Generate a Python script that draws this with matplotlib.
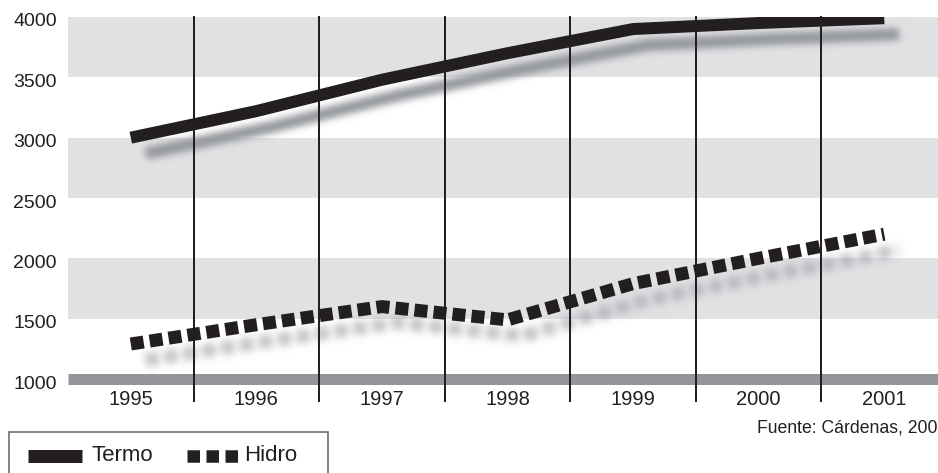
import matplotlib
matplotlib.use("Agg")
import matplotlib.pyplot as plt
import matplotlib.transforms as mtransforms
from matplotlib.lines import Line2D
from matplotlib.patches import Rectangle
import numpy as np

years = ["1995", "1996", "1997", "1998", "1999", "2000", "2001"]
termo = [3000, 3220, 3480, 3700, 3900, 3950, 3990]
hidro = [1290, 1450, 1600, 1490, 1790, 2000, 2200]
y_ticks = [1000, 1500, 2000, 2500, 3000, 3500, 4000]
band_ranges = [(1500, 2000), (2500, 3000), (3500, 4000)]
source_text = "Fuente: Cárdenas, 200"

INK = "#231f20"
BAND = "#e0e1e3"
BASE = "#939598"

plt.rcParams["font.family"] = ["Liberation Sans", "DejaVu Sans"]

W, H = 938, 473
PT = 0.72  # points per pixel at 100 dpi


def blurred_shadow(sigma, rgb, alpha=1.0):
    # agg filter: gaussian blur of the artist's alpha, recoloured grey
    r = int(3 * sigma)
    k = np.exp(-0.5 * (np.arange(-r, r + 1) / sigma) ** 2)
    k /= k.sum()

    def f(im, dpi):
        a = np.pad(im[:, :, 3], r)
        a = np.apply_along_axis(lambda v: np.convolve(v, k, mode="same"), 0, a)
        a = np.apply_along_axis(lambda v: np.convolve(v, k, mode="same"), 1, a)
        out = np.zeros(a.shape + (4,))
        out[..., :3] = rgb
        out[..., 3] = np.clip(a * alpha, 0, 1)
        return out, -r, -r
    return f


fig = plt.figure(figsize=(W / 100, H / 100), dpi=100)
ax = fig.add_axes([68 / W, (H - 379) / H, (947 - 68) / W, (379 - 17) / H])

x = np.arange(len(years))
ax.set_xlim(-0.5, len(years) - 0.5)
ax.set_ylim(y_ticks[0], y_ticks[-1])

for lo, hi in band_ranges:
    ax.axhspan(lo, hi, color=BAND, lw=0, zorder=0)
ax.axhline(y_ticks[0], color=BASE, lw=11 * PT, solid_capstyle="butt",
           clip_on=False, zorder=1.5)

# soft drop shadows under both series
shift = ax.transData + mtransforms.ScaledTranslation(15 / 100, -16 / 100, fig.dpi_scale_trans)
sh1, = ax.plot(x, termo, color="k", lw=12 * PT, solid_capstyle="butt",
               transform=shift, zorder=1)
sh1.set_agg_filter(blurred_shadow(3.5, (0.58, 0.59, 0.61)))
sh2, = ax.plot(x, hidro, color="k", lw=13 * PT, linestyle=(0, (1.0, 0.47)),
               dash_capstyle="butt", transform=shift, zorder=1)
sh2.set_agg_filter(blurred_shadow(4, (0.64, 0.65, 0.67), 0.7))

# separators between the years
sep = mtransforms.blended_transform_factory(ax.transData, ax.transAxes)
for xs in x[:-1] + 0.5:
    ax.plot([xs, xs], [-0.061, 1], color=INK, lw=2 * PT, transform=sep,
            clip_on=False, zorder=2)

ax.plot(x, termo, color=INK, lw=12 * PT, solid_capstyle="butt",
        solid_joinstyle="miter", zorder=3)
ax.plot(x, hidro, color=INK, lw=13 * PT, linestyle=(0, (1.0, 0.47)),
        dash_capstyle="butt", zorder=3)

for s in ax.spines.values():
    s.set_visible(False)
ax.set_xticks(x, years)
ax.set_yticks(y_ticks)
ax.tick_params(axis="x", length=0, pad=8, labelsize=14.5, labelcolor=INK)
ax.tick_params(axis="y", length=0, pad=8, labelsize=14, labelcolor=INK)
down = mtransforms.ScaledTranslation(0, -3 / 100, fig.dpi_scale_trans)
for lab in ax.get_yticklabels():
    lab.set_transform(lab.get_transform() + down)

fig.text(937 / W, 1 - 428 / H, source_text, fontsize=12.7, color=INK,
         ha="right", va="center")

# legend box along the bottom edge
def fx(px):
    return px / W


def fy(py):
    return 1 - py / H


fig.patches.append(Rectangle((fx(9), fy(480)), fx(328) - fx(9), fy(432) - fy(480),
                             transform=fig.transFigure, fill=False,
                             edgecolor="#6d6e71", lw=1.2))
fig.lines.append(Line2D([fx(28), fx(82)], [fy(455.5)] * 2, transform=fig.transFigure,
                        color=INK, lw=13 * PT, solid_capstyle="butt"))
fig.text(fx(91), fy(455), "Termo", fontsize=16, color=INK, va="center")
fig.lines.append(Line2D([fx(187), fx(238)], [fy(455.5)] * 2, transform=fig.transFigure,
                        color=INK, lw=12.5 * PT, linestyle=(0, (1.0, 0.52)),
                        dash_capstyle="butt"))
fig.text(fx(244), fy(455), "Hidro", fontsize=16, color=INK, va="center")

fig.savefig("out.png", dpi=100)
